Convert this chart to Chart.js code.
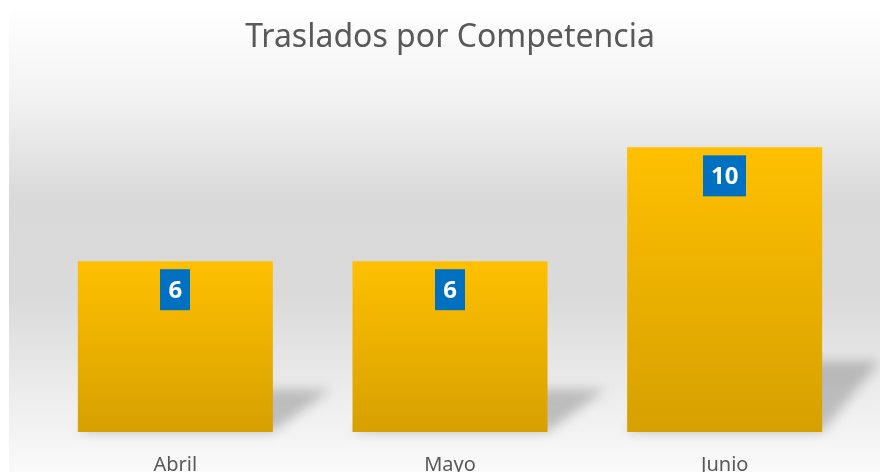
<!DOCTYPE html>
<html>
<head>
<meta charset="utf-8">
<script src="https://cdn.jsdelivr.net/npm/chart.js@4"></script>
<style>
html,body{margin:0;padding:0;background:#fff;}
#wrap{width:880px;height:472px;}
</style>
</head>
<body>
<div id="wrap"><canvas id="c" width="880" height="472"></canvas></div>
<script>
const chartTitle = "Traslados por Competencia";
const categories = ["Abril", "Mayo", "Junio"];
const values = [6, 6, 10];

const bgPlugin = {
  id: 'bg',
  beforeDraw(chart) {
    const ctx = chart.ctx;
    ctx.save();
    ctx.fillStyle = '#ffffff';
    ctx.fillRect(0, 0, chart.width, chart.height);
    const g = ctx.createLinearGradient(0, 10, 0, chart.height);
    g.addColorStop(0, '#fefefe');
    g.addColorStop(0.18, '#f3f3f3');
    g.addColorStop(0.41, '#d9d9d9');
    g.addColorStop(0.62, '#dadada');
    g.addColorStop(0.85, '#eeeeee');
    g.addColorStop(1, '#fafafa');
    ctx.fillStyle = g;
    ctx.fillRect(9, 10, chart.width - 9, chart.height - 10);
    ctx.restore();
  }
};

const shadowPlugin = {
  id: 'shadow',
  beforeDatasetsDraw(chart) {
    const ctx = chart.ctx;
    const meta = chart.getDatasetMeta(0);
    ctx.save();
    ctx.filter = 'blur(6px)';
    ctx.fillStyle = 'rgba(100,100,100,0.36)';
    meta.data.forEach(bar => {
      const p = bar.getProps(['x', 'y', 'base', 'width'], true);
      const left = p.x - p.width / 2, right = p.x + p.width / 2;
      const h = (p.base - p.y) * 0.25;
      const dx = 58;
      ctx.beginPath();
      ctx.moveTo(left, p.base);
      ctx.lineTo(right, p.base);
      ctx.lineTo(right + dx, p.base - h);
      ctx.lineTo(left + dx, p.base - h);
      ctx.closePath();
      ctx.fill();
    });
    ctx.restore();
  }
};

const labelPlugin = {
  id: 'boxlabels',
  afterDatasetsDraw(chart) {
    const ctx = chart.ctx;
    const meta = chart.getDatasetMeta(0);
    ctx.save();
    ctx.font = 'bold 24px "Open Sans", "Noto Sans", sans-serif';
    ctx.textAlign = 'center';
    ctx.textBaseline = 'middle';
    meta.data.forEach((bar, i) => {
      const p = bar.getProps(['x', 'y'], true);
      const txt = String(values[i]);
      const w = ctx.measureText(txt).width + 16;
      const top = p.y + 8, hh = 41;
      ctx.fillStyle = '#0070C0';
      ctx.fillRect(Math.round(p.x - w / 2), top, Math.round(w), hh);
      ctx.fillStyle = '#ffffff';
      ctx.fillText(txt, p.x, top + hh / 2 + 1);
    });
    ctx.restore();
  }
};

new Chart(document.getElementById('c'), {
  type: 'bar',
  data: {
    labels: categories,
    datasets: [{
      data: values,
      backgroundColor(ctx) {
        const chart = ctx.chart;
        if (!chart.chartArea) return '#FFC000';
        const ys = chart.scales.y;
        const top = ys.getPixelForValue(ctx.raw);
        const bot = ys.getPixelForValue(0);
        const g = chart.ctx.createLinearGradient(0, top, 0, bot);
        g.addColorStop(0, '#FFC000');
        g.addColorStop(1, '#D6A000');
        return g;
      },
      borderWidth: 0,
      categoryPercentage: 1,
      barPercentage: 0.71
    }]
  },
  options: {
    responsive: false,
    animation: false,
    devicePixelRatio: 1,
    layout: { padding: { left: 38, right: 18, top: 0, bottom: 0 } },
    plugins: {
      legend: { display: false },
      tooltip: { enabled: false },
      title: {
        display: true,
        text: chartTitle,
        color: '#595959',
        font: { family: '"Noto Sans", sans-serif', size: 32, weight: 'normal', lineHeight: 1.2 },
        padding: { top: 19, bottom: 33 }
      }
    },
    scales: {
      x: {
        grid: { display: false },
        border: { display: false },
        ticks: {
          color: '#595959',
          font: { family: '"Noto Sans", sans-serif', size: 20 },
          padding: 13
        },
        afterFit(s) { s.height = 40; }
      },
      y: {
        display: false,
        min: 0,
        max: 12
      }
    }
  },
  plugins: [bgPlugin, shadowPlugin, labelPlugin]
});
</script>
</body>
</html>
